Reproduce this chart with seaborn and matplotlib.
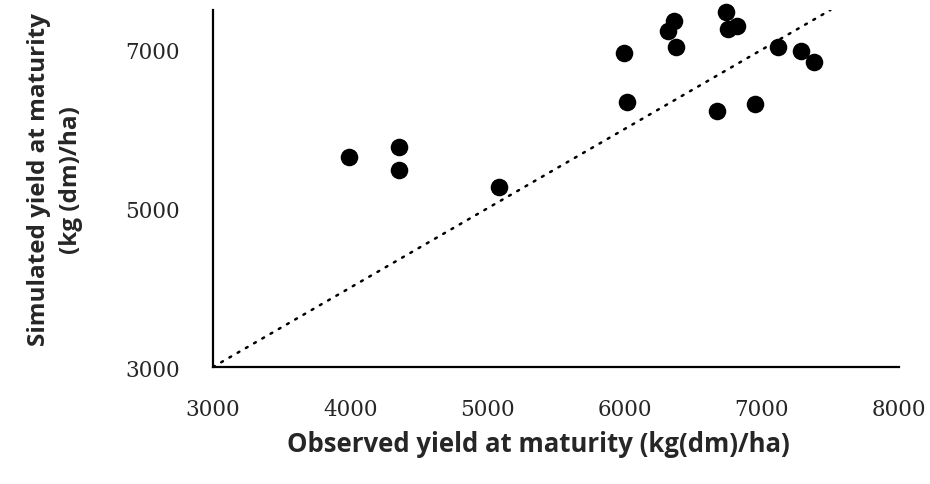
import matplotlib
matplotlib.use("Agg")
import matplotlib.pyplot as plt
import seaborn as sns
import pandas as pd

# Data
observed = [3993, 4358, 4358, 5088, 5993, 6015, 6358, 6314, 6372, 6737,
            6752, 6818, 6672, 6949, 7117, 7285, 7380]
simulated = [5647, 5773, 5483, 5269, 6958, 6340, 7362, 7235, 7034, 7475,
             7261, 7298, 6227, 6315, 7034, 6983, 6845]
line_vals = [3000, 7500]
x_ticks = [3000, 4000, 5000, 6000, 7000, 8000]
y_ticks = [3000, 5000, 7000]
x_label = "Observed yield at maturity (kg(dm)/ha)"
y_label = "Simulated yield at maturity\n(kg (dm)/ha)"

df = pd.DataFrame({"obs": observed, "sim": simulated})
line_df = pd.DataFrame({"x": line_vals, "y": line_vals})

sns.set_style("white")
plt.rcParams["font.family"] = ["DejaVu Sans"]

fig = plt.figure(figsize=(9.3, 4.85), dpi=100)
ax = fig.add_axes([0.229, 0.2412, 0.7377, 0.7361])

sns.lineplot(data=line_df, x="x", y="y", ax=ax, color="black",
             linewidth=1.8, linestyle=(0, (0.8, 3.0)),
             solid_capstyle="round", dash_capstyle="round")
sns.scatterplot(data=df, x="obs", y="sim", ax=ax, color="black", s=160,
                edgecolor="black", linewidth=0, clip_on=False, zorder=3)

ax.set_xlim(3000, 8000)
ax.set_ylim(3000, 7500)
ax.set_xticks(x_ticks)
ax.set_yticks(y_ticks)
ax.set_xticklabels([str(v) for v in x_ticks], family="DejaVu Serif",
                   fontsize=15.5, fontweight="medium")
ax.set_yticklabels([str(v) for v in y_ticks], family="DejaVu Serif",
                   fontsize=15.5, fontweight="medium")
ax.tick_params(axis="both", length=0)
ax.tick_params(axis="x", pad=22)
ax.tick_params(axis="y", pad=24)

for side in ["top", "right"]:
    ax.spines[side].set_visible(False)
for side in ["left", "bottom"]:
    ax.spines[side].set_color("black")
    ax.spines[side].set_linewidth(1.6)

ax.set_xlabel(x_label, family="Open Sans", fontweight="bold", fontsize=18.5)
ax.set_ylabel(y_label, family="Open Sans", fontweight="bold", fontsize=17.5,
              linespacing=1.45)
ax.xaxis.set_label_coords(0.475, -0.177)
ax.yaxis.set_label_coords(-0.19, 0.527)

fig.savefig("out.png", dpi=100)
